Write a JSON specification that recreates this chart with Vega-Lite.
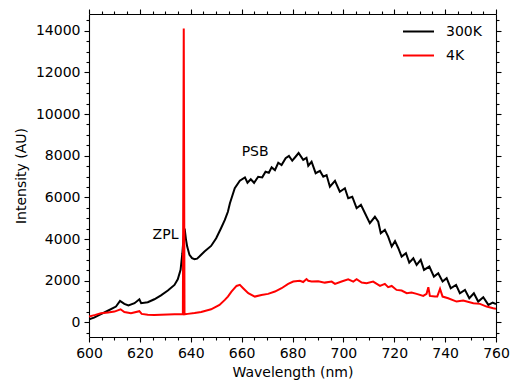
{
  "$schema": "https://vega.github.io/schema/vega-lite/v6.json",
  "width": 407,
  "height": 323,
  "autosize": "none",
  "padding": {"left": 89, "top": 14, "right": 14, "bottom": 44},
  "background": "white",
  "config": {
    "font": "DejaVu Sans",
    "view": {"stroke": null},
    "axis": {
      "domainColor": "#000000", "domainWidth": 1.1,
      "tickColor": "#000000", "tickWidth": 1.1,
      "labelFont": "DejaVu Sans", "labelFontSize": 14, "labelColor": "#000000",
      "titleFont": "DejaVu Sans", "titleFontSize": 14, "titleFontWeight": "normal", "titleColor": "#000000",
      "grid": false, "labelPadding": 4, "labelOverlap": false, "labelFlush": false, "format": "d"
    },
    "legend": {"labelFont": "DejaVu Sans", "labelFontSize": 14, "labelColor": "#000000"}
  },
  "datasets": {
    "spec": [
      {"series":"300K","wl":600,"v":150},{"series":"300K","wl":602,"v":230},{"series":"300K","wl":604.7,"v":400},
      {"series":"300K","wl":607.4,"v":560},{"series":"300K","wl":610.6,"v":760},{"series":"300K","wl":612.2,"v":1030},
      {"series":"300K","wl":613.9,"v":890},{"series":"300K","wl":615.5,"v":810},{"series":"300K","wl":617.9,"v":920},
      {"series":"300K","wl":619.8,"v":1110},{"series":"300K","wl":620.5,"v":920},{"series":"300K","wl":623.1,"v":970},
      {"series":"300K","wl":625.7,"v":1110},{"series":"300K","wl":628.3,"v":1300},{"series":"300K","wl":631,"v":1530},
      {"series":"300K","wl":633.6,"v":1800},{"series":"300K","wl":634.9,"v":2070},{"series":"300K","wl":636,"v":2520},
      {"series":"300K","wl":636.7,"v":3320},{"series":"300K","wl":637.2,"v":4100},{"series":"300K","wl":637.6,"v":4500},
      {"series":"300K","wl":638.1,"v":4000},{"series":"300K","wl":638.6,"v":3640},{"series":"300K","wl":639.5,"v":3240},
      {"series":"300K","wl":640.5,"v":3080},{"series":"300K","wl":641.5,"v":3030},{"series":"300K","wl":642.5,"v":3060},
      {"series":"300K","wl":643.4,"v":3160},{"series":"300K","wl":645.4,"v":3400},{"series":"300K","wl":648,"v":3670},
      {"series":"300K","wl":650,"v":4040},{"series":"300K","wl":651.9,"v":4520},{"series":"300K","wl":653.4,"v":4920},
      {"series":"300K","wl":654.6,"v":5310},{"series":"300K","wl":655.4,"v":5720},{"series":"300K","wl":657.3,"v":6440},
      {"series":"300K","wl":659.3,"v":6800},{"series":"300K","wl":661.3,"v":6960},{"series":"300K","wl":662.3,"v":6700},
      {"series":"300K","wl":663.6,"v":6870},{"series":"300K","wl":664.9,"v":6700},{"series":"300K","wl":666.5,"v":6990},
      {"series":"300K","wl":668.1,"v":6960},{"series":"300K","wl":669.4,"v":7230},{"series":"300K","wl":670.7,"v":7180},
      {"series":"300K","wl":671.8,"v":7440},{"series":"300K","wl":673.1,"v":7310},{"series":"300K","wl":674.4,"v":7660},
      {"series":"300K","wl":675.7,"v":7550},{"series":"300K","wl":677.3,"v":7880},{"series":"300K","wl":678.6,"v":7990},
      {"series":"300K","wl":679.9,"v":7760},{"series":"300K","wl":681.2,"v":7950},{"series":"300K","wl":682.4,"v":8130},
      {"series":"300K","wl":684.2,"v":7800},{"series":"300K","wl":685.5,"v":7900},{"series":"300K","wl":686.2,"v":7520},
      {"series":"300K","wl":687.5,"v":7710},{"series":"300K","wl":689.1,"v":7160},{"series":"300K","wl":690.8,"v":7270},
      {"series":"300K","wl":692.1,"v":6990},{"series":"300K","wl":693.4,"v":7070},{"series":"300K","wl":694.7,"v":6510},
      {"series":"300K","wl":696.7,"v":6790},{"series":"300K","wl":698.6,"v":6270},{"series":"300K","wl":700.6,"v":6440},
      {"series":"300K","wl":701.9,"v":5960},{"series":"300K","wl":703.5,"v":6030},{"series":"300K","wl":705.2,"v":5480},
      {"series":"300K","wl":706.9,"v":5640},{"series":"300K","wl":708.5,"v":5240},{"series":"300K","wl":710.4,"v":4760},
      {"series":"300K","wl":712.4,"v":5070},{"series":"300K","wl":713.7,"v":4830},{"series":"300K","wl":714.7,"v":4280},
      {"series":"300K","wl":716.3,"v":4440},{"series":"300K","wl":717.6,"v":4120},{"series":"300K","wl":719,"v":3640},
      {"series":"300K","wl":720.3,"v":3900},{"series":"300K","wl":721.6,"v":3560},{"series":"300K","wl":722.9,"v":3160},
      {"series":"300K","wl":724.6,"v":3320},{"series":"300K","wl":725.9,"v":2870},{"series":"300K","wl":727.5,"v":3080},
      {"series":"300K","wl":728.8,"v":2760},{"series":"300K","wl":730.4,"v":3000},{"series":"300K","wl":731.7,"v":2520},
      {"series":"300K","wl":733.8,"v":2680},{"series":"300K","wl":735.6,"v":2200},{"series":"300K","wl":737.3,"v":2360},
      {"series":"300K","wl":739,"v":1960},{"series":"300K","wl":740.6,"v":2120},{"series":"300K","wl":742.2,"v":1640},
      {"series":"300K","wl":744.3,"v":1800},{"series":"300K","wl":745.8,"v":1400},{"series":"300K","wl":747.8,"v":1560},
      {"series":"300K","wl":749.5,"v":1160},{"series":"300K","wl":751.3,"v":1400},{"series":"300K","wl":753,"v":1000},
      {"series":"300K","wl":755,"v":1210},{"series":"300K","wl":757,"v":840},{"series":"300K","wl":758.7,"v":950},
      {"series":"300K","wl":760,"v":880},
      {"series":"4K","wl":600,"v":280},{"series":"4K","wl":602.5,"v":360},{"series":"4K","wl":604.7,"v":440},
      {"series":"4K","wl":607.5,"v":480},{"series":"4K","wl":610,"v":520},{"series":"4K","wl":612.4,"v":630},
      {"series":"4K","wl":613.9,"v":500},{"series":"4K","wl":616.5,"v":440},{"series":"4K","wl":619.8,"v":540},
      {"series":"4K","wl":620.7,"v":410},{"series":"4K","wl":623.1,"v":370},{"series":"4K","wl":625.7,"v":350},
      {"series":"4K","wl":628.3,"v":370},{"series":"4K","wl":631,"v":380},{"series":"4K","wl":633.6,"v":390},
      {"series":"4K","wl":636.9,"v":390},{"series":"4K","wl":637.25,"v":14100},{"series":"4K","wl":637.55,"v":390},
      {"series":"4K","wl":638.8,"v":410},{"series":"4K","wl":641.5,"v":450},{"series":"4K","wl":644.1,"v":500},
      {"series":"4K","wl":648,"v":630},{"series":"4K","wl":651.3,"v":840},{"series":"4K","wl":653.4,"v":1080},
      {"series":"4K","wl":654.6,"v":1240},{"series":"4K","wl":656,"v":1480},{"series":"4K","wl":658,"v":1750},
      {"series":"4K","wl":659.3,"v":1800},{"series":"4K","wl":660.6,"v":1640},{"series":"4K","wl":662.6,"v":1400},
      {"series":"4K","wl":665.2,"v":1240},{"series":"4K","wl":667.8,"v":1320},{"series":"4K","wl":670.4,"v":1370},
      {"series":"4K","wl":673.1,"v":1480},{"series":"4K","wl":675.7,"v":1640},{"series":"4K","wl":678.3,"v":1850},
      {"series":"4K","wl":680.3,"v":1960},{"series":"4K","wl":682.9,"v":2000},{"series":"4K","wl":684.2,"v":1940},
      {"series":"4K","wl":685.5,"v":2080},{"series":"4K","wl":686.2,"v":2000},{"series":"4K","wl":687.5,"v":1960},
      {"series":"4K","wl":690.1,"v":1980},{"series":"4K","wl":692.7,"v":1910},{"series":"4K","wl":695.4,"v":1960},
      {"series":"4K","wl":696.7,"v":1850},{"series":"4K","wl":699.3,"v":1960},{"series":"4K","wl":701.9,"v":2070},
      {"series":"4K","wl":703.9,"v":1960},{"series":"4K","wl":705.2,"v":2070},{"series":"4K","wl":707.2,"v":1910},
      {"series":"4K","wl":709.1,"v":1880},{"series":"4K","wl":711.7,"v":1960},{"series":"4K","wl":714.4,"v":1750},
      {"series":"4K","wl":716.3,"v":1850},{"series":"4K","wl":717.6,"v":1690},{"series":"4K","wl":719,"v":1750},
      {"series":"4K","wl":720.9,"v":1560},{"series":"4K","wl":722.9,"v":1530},{"series":"4K","wl":724.9,"v":1400},
      {"series":"4K","wl":726.8,"v":1430},{"series":"4K","wl":728.8,"v":1370},{"series":"4K","wl":731.4,"v":1270},
      {"series":"4K","wl":732.7,"v":1370},{"series":"4K","wl":733.4,"v":1690},{"series":"4K","wl":734,"v":1270},
      {"series":"4K","wl":736,"v":1240},{"series":"4K","wl":736.9,"v":1240},{"series":"4K","wl":738,"v":1610},
      {"series":"4K","wl":739,"v":1240},{"series":"4K","wl":741.2,"v":1160},{"series":"4K","wl":744.5,"v":1000},
      {"series":"4K","wl":747.1,"v":1050},{"series":"4K","wl":751.1,"v":920},{"series":"4K","wl":753.7,"v":890},
      {"series":"4K","wl":756.3,"v":760},{"series":"4K","wl":758.9,"v":680},{"series":"4K","wl":760,"v":650}
    ],
    "notes": [
      {"label": "ZPL", "wl": 625, "v": 4000},
      {"label": "PSB", "wl": 660, "v": 8000}
    ]
  },
  "resolve": {"axis": {"x": "independent", "y": "independent"}},
  "layer": [
    {
      "data": {"name": "spec"},
      "transform": [{"filter": "datum.series === '300K'"}],
      "mark": {"type": "line", "strokeWidth": 2, "clip": true},
      "encoding": {
        "x": {"field": "wl", "type": "quantitative", "scale": {"domain": [600, 760], "nice": false, "zero": false},
          "axis": {"orient": "bottom", "title": "Wavelength (nm)", "titlePadding": 5,
            "values": [600,605,610,615,620,625,630,635,640,645,650,655,660,665,670,675,680,685,690,695,700,705,710,715,720,725,730,735,740,745,750,755,760],
            "labelExpr": "datum.value % 20 === 0 ? datum.label : ''",
            "tickSize": {"condition": {"test": "datum.value % 20 === 0", "value": 5}, "value": 3}}},
        "y": {"field": "v", "type": "quantitative", "scale": {"domain": [-700, 14800], "nice": false, "zero": false},
          "axis": {"orient": "left", "title": "Intensity (AU)", "titlePadding": 7,
            "values": [-500,0,500,1000,1500,2000,2500,3000,3500,4000,4500,5000,5500,6000,6500,7000,7500,8000,8500,9000,9500,10000,10500,11000,11500,12000,12500,13000,13500,14000,14500],
            "labelExpr": "datum.value % 2000 === 0 ? datum.label : ''",
            "tickSize": {"condition": {"test": "datum.value % 2000 === 0", "value": 5}, "value": 3}}},
        "color": {"field": "series", "type": "nominal",
          "scale": {"domain": ["300K", "4K"], "range": ["#000000", "#ff0000"]},
          "legend": {"orient": "none", "legendX": 313, "legendY": 1, "title": null,
            "symbolType": "stroke", "symbolSize": 961, "symbolStrokeWidth": 2,
            "labelOffset": 11, "rowPadding": -10}}
      }
    },
    {
      "data": {"name": "spec"},
      "transform": [{"filter": "datum.series === '4K'"}],
      "mark": {"type": "line", "strokeWidth": 2, "clip": true},
      "encoding": {
        "x": {"field": "wl", "type": "quantitative", "scale": {"domain": [600, 760], "nice": false, "zero": false},
          "axis": {"orient": "top", "title": null, "labels": false,
            "values": [600,605,610,615,620,625,630,635,640,645,650,655,660,665,670,675,680,685,690,695,700,705,710,715,720,725,730,735,740,745,750,755,760],
            "tickSize": {"condition": {"test": "datum.value % 20 === 0", "value": 5}, "value": 3}}},
        "y": {"field": "v", "type": "quantitative", "scale": {"domain": [-700, 14800], "nice": false, "zero": false},
          "axis": {"orient": "right", "title": null, "labels": false,
            "values": [-500,0,500,1000,1500,2000,2500,3000,3500,4000,4500,5000,5500,6000,6500,7000,7500,8000,8500,9000,9500,10000,10500,11000,11500,12000,12500,13000,13500,14000,14500],
            "tickSize": {"condition": {"test": "datum.value % 2000 === 0", "value": 5}, "value": 3}}},
        "color": {"field": "series", "type": "nominal",
          "scale": {"domain": ["300K", "4K"], "range": ["#000000", "#ff0000"]}}
      }
    },
    {
      "data": {"name": "notes"},
      "mark": {"type": "text", "align": "left", "baseline": "alphabetic", "fontSize": 14, "font": "DejaVu Sans", "color": "#000000"},
      "encoding": {
        "x": {"field": "wl", "type": "quantitative", "axis": null},
        "y": {"field": "v", "type": "quantitative", "axis": null},
        "text": {"field": "label"}
      }
    }
  ]
}
